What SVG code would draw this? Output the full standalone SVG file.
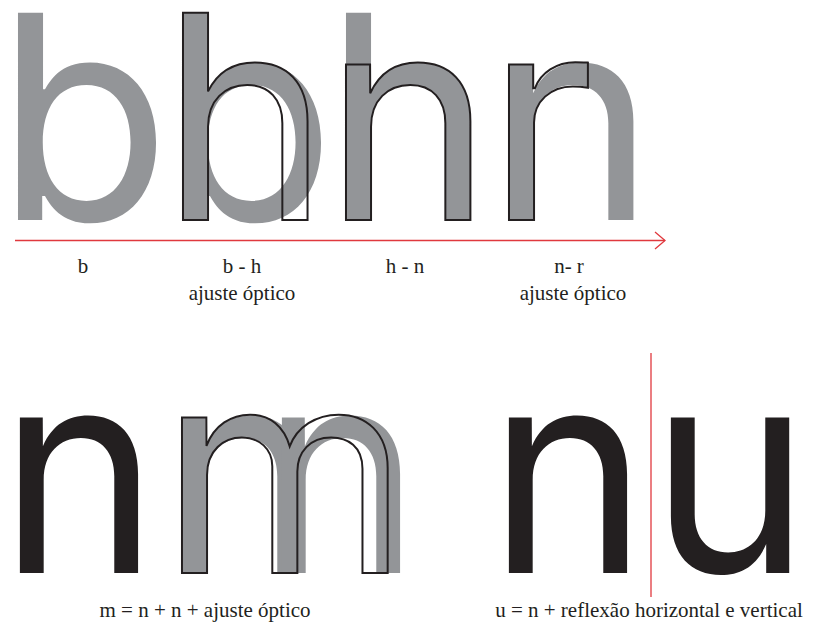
<svg xmlns="http://www.w3.org/2000/svg" width="813" height="630" viewBox="0 0 813 630">
<style>
.big{font-family:Inter,"Open Sans",sans-serif;font-size:285px}
.gray{fill:#939598}
.blk{fill:#231f20}
.out{fill:none;stroke:#231f20;stroke-width:2;stroke-linejoin:miter}
.lbl{font-family:"Liberation Serif","Times New Roman",serif;fill:#231f20;text-anchor:middle;font-size:21px}
.red{stroke:#e0393e;stroke-width:1.3;fill:none}
</style>
<rect width="813" height="630" fill="#fff"/>
<g id="b-single"><text class="big gray" x="-4" y="220">b</text></g>
<g id="b-h"><text class="big gray" x="161" y="220">b</text><text class="big out" x="161" y="220">h</text></g>
<g id="h-n"><text class="big gray" x="324" y="220">h</text><text class="big out" x="324" y="220">n</text></g>
<g id="n-r"><text class="big gray" x="487" y="220">n</text><text class="big out" x="487" y="220">r</text></g>
<g id="connectors">
<line class="red" x1="15" y1="240.5" x2="665" y2="240.5"/>
<polyline class="red" points="655,232 665,240.5 655,249"/>
<line class="red" x1="651" y1="353" x2="651" y2="597"/>
</g>
<g id="labels-top">
<text class="lbl" x="83" y="273">b</text>
<text class="lbl" x="242" y="273">b - h</text>
<text class="lbl" x="242" y="300">ajuste óptico</text>
<text class="lbl" x="405" y="273">h - n</text>
<text class="lbl" x="569" y="273">n- r</text>
<text class="lbl" x="573" y="300">ajuste óptico</text>
</g>
<g id="n-black"><text class="big blk" transform="translate(-1,573) scale(0.95,1)">n</text></g>
<g id="m-build"><text class="big gray" transform="translate(162,573) scale(0.95,1)">n</text><text class="big gray" transform="translate(261,573) scale(0.95,1)">n</text><text class="big out" x="160" y="573">m</text></g>
<g id="n-u"><text class="big blk" transform="translate(488,573) scale(0.95,1)">n</text><text class="big blk" transform="translate(650,573) scale(0.95,1)">u</text></g>
<g id="labels-bottom">
<text class="lbl" x="205" y="617">m = n + n + ajuste óptico</text>
<text class="lbl" x="649" y="617">u = n + reflexão horizontal e vertical</text>
</g>
</svg>
